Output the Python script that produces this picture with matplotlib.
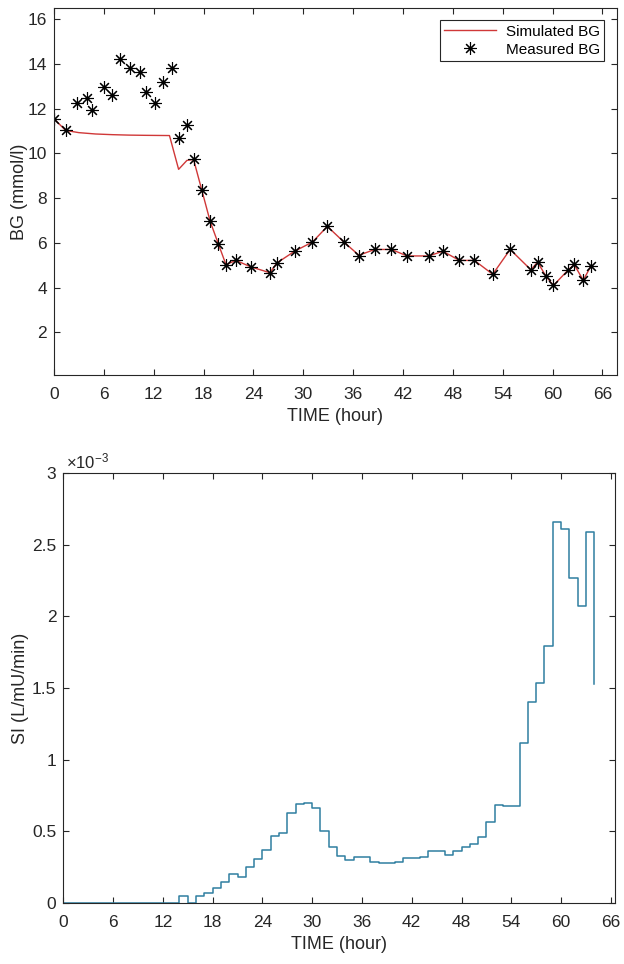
import numpy as np
import matplotlib
matplotlib.use('Agg')
import matplotlib.pyplot as plt
from matplotlib.ticker import FuncFormatter

# measured blood glucose (hour, mmol/l)
meas_t = [0, 1.4, 2.8, 4.0, 4.6, 6.0, 7.0, 8.0, 9.1, 10.3, 11.1, 12.1, 13.1, 14.2,
          15.1, 16.0, 16.8, 17.8, 18.8, 19.8, 20.7, 21.9, 23.7, 26.0, 26.8, 29.0,
          31.1, 32.9, 34.9, 36.7, 38.6, 40.6, 42.5, 45.1, 46.8, 48.8, 50.6, 52.8,
          54.9, 57.4, 58.2, 59.2, 60.1, 61.9, 62.6, 63.7, 64.6]
meas_bg = [11.55, 11.03, 12.25, 12.5, 11.95, 12.96, 12.62, 14.2, 13.8, 13.66, 12.74,
           12.25, 13.2, 13.8, 10.7, 11.25, 9.73, 8.35, 6.96, 5.94, 5.03, 5.22, 4.93,
           4.67, 5.1, 5.64, 6.04, 6.74, 6.04, 5.42, 5.71, 5.71, 5.42, 5.42, 5.63,
           5.22, 5.22, 4.6, 5.71, 4.8, 5.15, 4.52, 4.1, 4.8, 5.04, 4.33, 4.96]

# simulated blood glucose
sim_t = [0, 1.4, 3, 5, 7, 9, 11, 13.9, 15.0, 16.0, 16.8, 17.8, 18.8, 19.8, 20.7,
         21.9, 23.7, 26.0, 26.8, 29.0, 31.1, 32.9, 34.9, 36.7, 38.6, 40.6, 42.5,
         45.1, 46.8, 48.8, 50.6, 52.8, 54.9, 57.4, 58.2, 59.2, 60.1, 61.9, 62.6,
         63.7, 64.6]
sim_bg = [11.55, 11.03, 10.93, 10.87, 10.84, 10.82, 10.81, 10.8, 9.29, 9.69, 9.73,
          8.35, 6.96, 5.94, 5.03, 5.22, 4.93, 4.67, 5.1, 5.64, 6.04, 6.74, 6.04,
          5.45, 5.71, 5.71, 5.42, 5.42, 5.63, 5.22, 5.22, 4.6, 5.71, 4.8, 5.15,
          4.52, 4.1, 4.8, 5.04, 4.33, 4.96]

# insulin sensitivity, hourly step values (x1e-3), last entry is end point
si_hours = list(range(0, 65))
si_vals = [0] * 14 + [0.05, 0, 0.05, 0.07, 0.107, 0.144, 0.2, 0.18, 0.25, 0.31,
           0.37, 0.47, 0.49, 0.63, 0.69, 0.70, 0.665, 0.50, 0.39, 0.33, 0.30,
           0.32, 0.32, 0.284, 0.277, 0.277, 0.284, 0.316, 0.316, 0.323, 0.363,
           0.363, 0.335, 0.363, 0.388, 0.41, 0.458, 0.563, 0.683, 0.676, 0.68,
           1.118, 1.40, 1.536, 1.79, 2.655, 2.61, 2.27, 2.07, 2.59, 1.53]
si_vals = [v * 1e-3 for v in si_vals]

xticks = list(range(0, 67, 6))

plt.rcParams['font.family'] = ['Liberation Sans', 'DejaVu Sans']
plt.rcParams['font.size'] = 13
edge = '#262626'

fig = plt.figure(figsize=(6.24, 9.64), dpi=100)

# top plot
ax1 = fig.add_axes([0.0865, 0.611, 0.9015, 0.3807])
ax1.plot(sim_t, sim_bg, color='#d03838', lw=1.0, label='Simulated BG')
ax1.plot(meas_t, meas_bg, linestyle='none', marker=(8, 2, 0), markersize=9,
         color='black', mew=0.8, label='Measured BG')
ax1.set_xlim(0, 67.7)
ax1.set_ylim(0.1, 16.5)
ax1.set_xticks(xticks)
ax1.set_yticks(range(2, 17, 2))
ax1.set_xlabel('TIME (hour)', labelpad=4)
ax1.set_ylabel('BG (mmol/l)', labelpad=0)
leg = ax1.legend(loc='upper right', fancybox=False, framealpha=1,
                 edgecolor=edge, fontsize=11, borderaxespad=0.8,
                 handlelength=3.4, borderpad=0.3, labelspacing=0.25,
                 handletextpad=0.6)
leg.get_frame().set_linewidth(0.8)

# bottom plot
ax2 = fig.add_axes([0.1014, 0.0633, 0.8842, 0.4461])
ax2.step(si_hours, si_vals, where='post', color='#2f7ea1', lw=1.1)
ax2.set_xlim(0, 66.5)
ax2.set_ylim(0, 3e-3)
ax2.set_xticks(xticks)
ax2.set_yticks(np.arange(0, 3.01e-3, 0.5e-3))
ax2.yaxis.set_major_formatter(FuncFormatter(lambda v, p: ('%g' % round(v * 1e3, 2))))
ax2.set_xlabel('TIME (hour)', labelpad=4)
ax2.set_ylabel('SI (L/mU/min)', labelpad=2)
ax2.text(0.005, 1.003, r'$\mathregular{\times10^{-3}}$', transform=ax2.transAxes,
         fontsize=12, color=edge, ha='left', va='bottom')

for ax in (ax1, ax2):
    for s in ax.spines.values():
        s.set_color(edge)
        s.set_linewidth(0.8)
    ax.tick_params(direction='in', top=True, right=True, length=4,
                   width=0.8, colors=edge, labelsize=12.5)
    ax.tick_params(axis='x', pad=9)
    ax.tick_params(axis='y', pad=5)
    ax.xaxis.label.set_color(edge)
    ax.yaxis.label.set_color(edge)

fig.savefig('out.png', dpi=100)
